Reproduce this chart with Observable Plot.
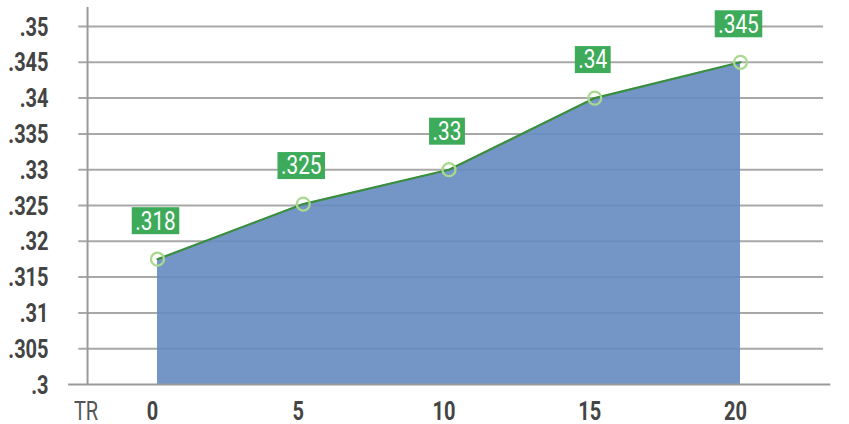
<!DOCTYPE html>
<html><head><meta charset="utf-8">
<script src="https://cdn.jsdelivr.net/npm/d3@7"></script>
<script src="https://cdn.jsdelivr.net/npm/@observablehq/plot@0.6"></script>
<style>body{margin:0;background:#fff;overflow:hidden}</style>
</head><body><div id="chart"></div>
<script>
const trValues = [0, 5, 10, 15, 20];
const batValues = [0.3175, 0.3252, 0.330, 0.340, 0.345];
const valueLabels = [".318", ".325", ".33", ".34", ".345"];
const yTicks = [0.3, 0.305, 0.31, 0.315, 0.32, 0.325, 0.33, 0.335, 0.34, 0.345, 0.35];
const yTickLabels = [".3", ".305", ".31", ".315", ".32", ".325", ".33", ".335", ".34", ".345", ".35"];
const xTicks = [0, 5, 10, 15, 20];
const xTickLabels = ["0", "5", "10", "15", "20"];
const xAxisTitle = "TR";

const data = trValues.map((t, i) => ({tr: t, v: batValues[i], label: valueLabels[i]}));
const yTickData = yTicks.map((v, i) => ({v, label: yTickLabels[i]}));
const xTickData = xTicks.map((t, i) => ({t, label: xTickLabels[i]}));

const font = "Roboto, 'Liberation Sans', sans-serif";
const yMin = 0.3;
const axisX = -2.4;
const SQUEEZE = 0.8;

const chart = Plot.plot({
  width: 849, height: 424,
  margin: 0,
  style: {fontFamily: font, background: "#fff", overflow: "visible"},
  x: {domain: [0, 20], range: [157, 740], axis: null},
  y: {domain: [0.3, 0.35], range: [384, 26], axis: null},
  marks: [
    Plot.ruleY(yTicks.slice(1), {x1: -2.7, x2: 22.85, stroke: "#a8a8a8", strokeWidth: 2}),
    Plot.areaY(data, {x: "tr", y1: yMin, y2: "v", fill: "#658bc1", fillOpacity: 0.9}),
    Plot.line(data, {x: "tr", y: "v", stroke: "#3a8f3e", strokeWidth: 2.2}),
    Plot.dot(data, {x: "tr", y: "v", r: 6.5, stroke: "#a9d98e", strokeWidth: 2.3, fill: "none"}),
    Plot.ruleX([axisX], {y1: yMin, y2: 0.35265, stroke: "#9a9a9a", strokeWidth: 2}),
    Plot.ruleY([yMin], {x1: -3.05, x2: 23.1, stroke: "#9a9a9a", strokeWidth: 2}),
    Plot.text(yTickData, {x: () => axisX, y: "v", text: "label", dx: -39, dy: 1, textAnchor: "end",
      fontSize: 25, fontWeight: "bold", fill: "#444"}),
    Plot.text(xTickData, {x: "t", y: () => yMin, text: "label", dx: -5, dy: 27,
      fontSize: 25, fontWeight: "bold", fill: "#444"}),
    Plot.text([xAxisTitle], {x: () => axisX, y: () => yMin, text: d => d, dx: -1.5, dy: 27,
      fontSize: 25, fill: "#555"}),
    Plot.text(data, {x: "tr", y: "v", text: "label", dx: -2, dy: -38, fontSize: 26,
      fill: "#fff"})
  ]
});
document.getElementById("chart").appendChild(chart);

const textGroups = chart.querySelectorAll('g[aria-label="text"]');
// squeeze all texts horizontally (condensed look)
textGroups.forEach(g => g.querySelectorAll("text").forEach(t => {
  const tr = t.getAttribute("transform") || "";
  t.setAttribute("transform", tr + ` scale(${SQUEEZE} 1)`);
}));

// green boxes behind value labels (last text mark)
const valueGroup = textGroups[textGroups.length - 1];
valueGroup.querySelectorAll("text").forEach(t => {
  const b = t.getBBox();
  const r = document.createElementNS("http://www.w3.org/2000/svg", "rect");
  const padX = 3.5 / SQUEEZE;
  r.setAttribute("x", b.x - padX);
  r.setAttribute("y", b.y + b.height / 2 - 13.5);
  r.setAttribute("width", b.width + 2 * padX);
  r.setAttribute("height", 27);
  r.setAttribute("fill", "#3dab5a");
  r.setAttribute("transform", t.getAttribute("transform"));
  t.parentNode.insertBefore(r, t);
});
</script>
</body></html>
